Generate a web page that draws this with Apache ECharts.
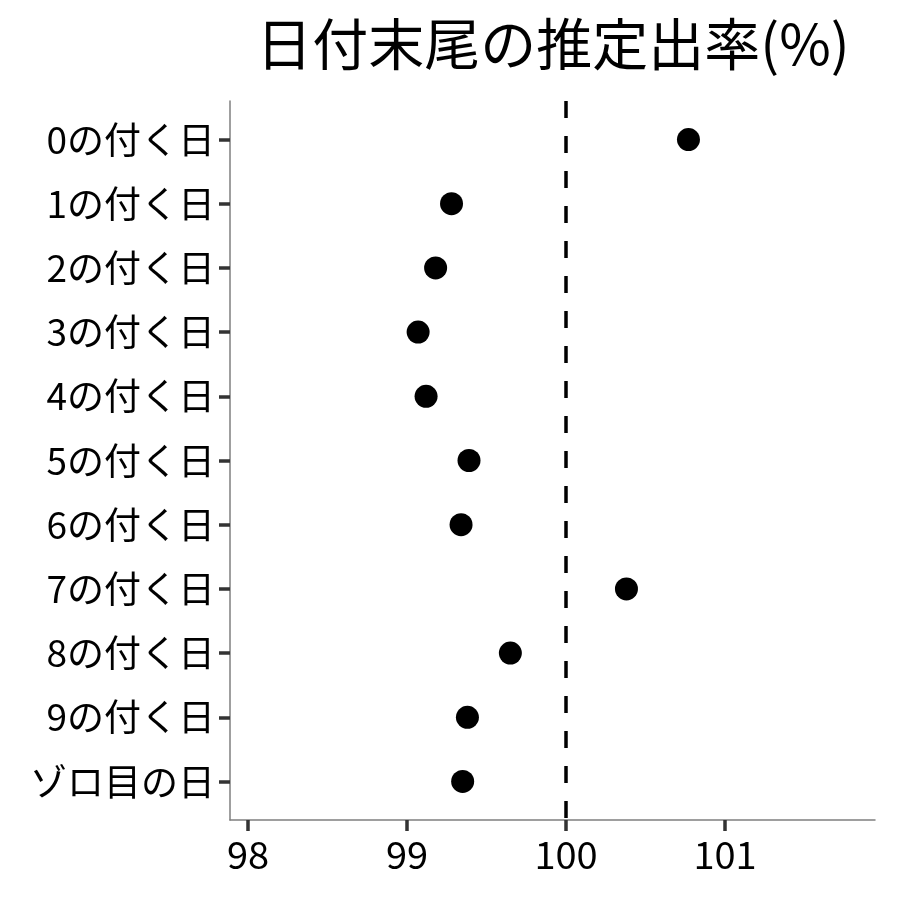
<!DOCTYPE html>
<html>
<head>
<meta charset="utf-8">
<script src="https://cdn.jsdelivr.net/npm/echarts@6/dist/echarts.min.js"></script>
<style>
  html, body { margin: 0; padding: 0; background: #fff; }
  #chart { width: 900px; height: 900px; }
</style>
</head>
<body>
<div id="chart"></div>
<script>
// カテゴリ（上から順）
const categories = ['0の付く日', '1の付く日', '2の付く日', '3の付く日', '4の付く日',
  '5の付く日', '6の付く日', '7の付く日', '8の付く日', '9の付く日', 'ゾロ目の日']
// 推定出率(%)
const rates = [100.77, 99.28, 99.18, 99.07, 99.12, 99.39, 99.34, 100.38, 99.65, 99.38, 99.35]
const xTicks = [98, 99, 100, 101]
const refLine = 100

const FONT = '"Noto Sans CJK JP", "Noto Sans", sans-serif'

const chart = echarts.init(document.getElementById('chart'))

const catIndex = categories.map((c, i) => i)

const option = {
  backgroundColor: '#fff',
  animation: false,
  title: {
    text: '日付末尾の推定出率(%)',
    left: 548,
    top: 11,
    textAlign: 'center',
    textStyle: { fontFamily: FONT, fontSize: 56, fontWeight: 'normal', color: '#000' }
  },
  grid: { left: 230, right: 25, top: 101, bottom: 80 },
  xAxis: {
    type: 'value',
    min: 97.887,
    max: 101.943,
    splitLine: { show: false },
    axisLine: { show: true, onZero: false, lineStyle: { color: '#7f7f7f', width: 1.5 } },
    axisTick: { show: true, length: 11, customValues: xTicks, lineStyle: { color: '#333', width: 3.5 } },
    axisLabel: {
      customValues: xTicks,
      margin: 16,
      fontFamily: FONT, fontSize: 38, color: '#000'
    }
  },
  yAxis: {
    type: 'value',
    inverse: true,
    min: -0.6,
    max: 10.6,
    splitLine: { show: false },
    axisLine: { show: true, onZero: false, lineStyle: { color: '#7f7f7f', width: 1.5 } },
    axisTick: { show: true, length: 11, customValues: catIndex, lineStyle: { color: '#333', width: 3.5 } },
    axisLabel: {
      customValues: catIndex,
      margin: 15,
      formatter: v => categories[Math.round(v)],
      fontFamily: FONT, fontSize: 37, color: '#000'
    }
  },
  series: [
    {
      type: 'scatter',
      symbol: 'circle',
      symbolSize: 23,
      itemStyle: { color: '#000', opacity: 1 },
      data: rates.map((r, i) => [r, i]),
      markLine: {
        silent: true,
        symbol: 'none',
        label: { show: false },
        lineStyle: { color: '#000', width: 3.5, type: [17, 18] },
        data: [{ xAxis: refLine }]
      }
    }
  ]
}

chart.setOption(option)
</script>
</body>
</html>
